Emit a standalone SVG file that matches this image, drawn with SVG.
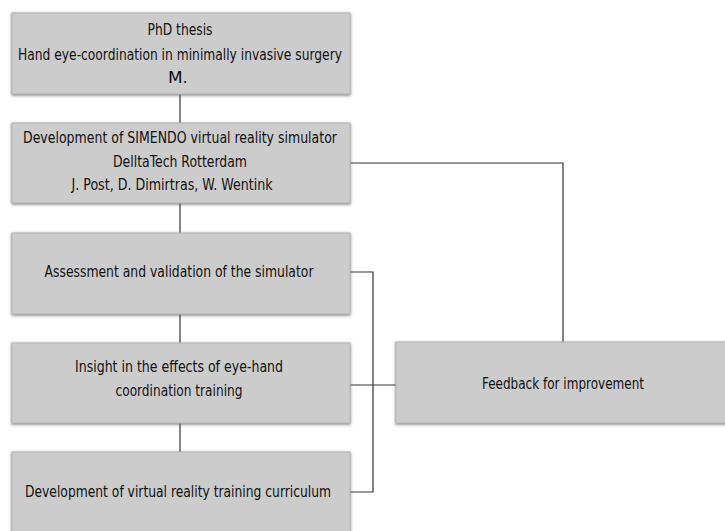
<svg xmlns="http://www.w3.org/2000/svg" width="725" height="531" viewBox="0 0 725 531">
<defs>
<filter id="sh" x="-5%" y="-10%" width="110%" height="125%">
<feDropShadow dx="0" dy="1" stdDeviation="1.6" flood-color="#555" flood-opacity="0.8"/>
</filter>
<style>
.box{fill:#cccccc;stroke:#b4b4b4;stroke-width:1;filter:url(#sh)}
.t{font-family:"Liberation Sans Narrow","DejaVu Sans Condensed","Liberation Sans",sans-serif;font-size:15.5px;fill:#111;text-anchor:middle}
.c{fill:none;stroke:#333;stroke-width:1.2}
</style>
</defs>
<rect width="725" height="531" fill="#fff"/>
<g id="connectors">
<path class="c" d="M180 94V123"/>
<path class="c" d="M180 203V233"/>
<path class="c" d="M180 314V343"/>
<path class="c" d="M180 423V452"/>
<path class="c" d="M350 163H563V342"/>
<path class="c" d="M350 272H373V492H350"/>
<path class="c" d="M350 385H396"/>
</g>
<g id="n1">
<rect class="box" x="12" y="13" width="338" height="81"/>
<text class="t" x="180" y="35" textLength="65" lengthAdjust="spacingAndGlyphs">PhD thesis</text>
<text class="t" x="180" y="60" textLength="324" lengthAdjust="spacingAndGlyphs">Hand eye-coordination in minimally invasive surgery</text>
<text class="t" x="178" y="83" textLength="20" lengthAdjust="spacingAndGlyphs">M.</text>
</g>
<g id="n2">
<rect class="box" x="12" y="123" width="338" height="80"/>
<text class="t" x="180" y="143" textLength="314" lengthAdjust="spacingAndGlyphs">Development of SIMENDO virtual reality simulator</text>
<text class="t" x="180" y="167" textLength="134" lengthAdjust="spacingAndGlyphs">DelltaTech Rotterdam</text>
<text class="t" x="172" y="190" textLength="201" lengthAdjust="spacingAndGlyphs">J. Post, D. Dimirtras, W. Wentink</text>
</g>
<g id="n3">
<rect class="box" x="12" y="233" width="338" height="81"/>
<text class="t" x="179" y="277" textLength="269" lengthAdjust="spacingAndGlyphs">Assessment and validation of the simulator</text>
</g>
<g id="n4">
<rect class="box" x="12" y="343" width="338" height="80"/>
<text class="t" x="179" y="372" textLength="208" lengthAdjust="spacingAndGlyphs">Insight in the effects of eye-hand</text>
<text class="t" x="179" y="396" textLength="127" lengthAdjust="spacingAndGlyphs">coordination training</text>
</g>
<g id="n5">
<rect class="box" x="12" y="452" width="338" height="90"/>
<text class="t" x="178" y="497" textLength="306" lengthAdjust="spacingAndGlyphs">Development of virtual reality training curriculum</text>
</g>
<g id="n6">
<rect class="box" x="396" y="342" width="340" height="81"/>
<text class="t" x="563" y="389" textLength="162" lengthAdjust="spacingAndGlyphs">Feedback for improvement</text>
</g>
</svg>
